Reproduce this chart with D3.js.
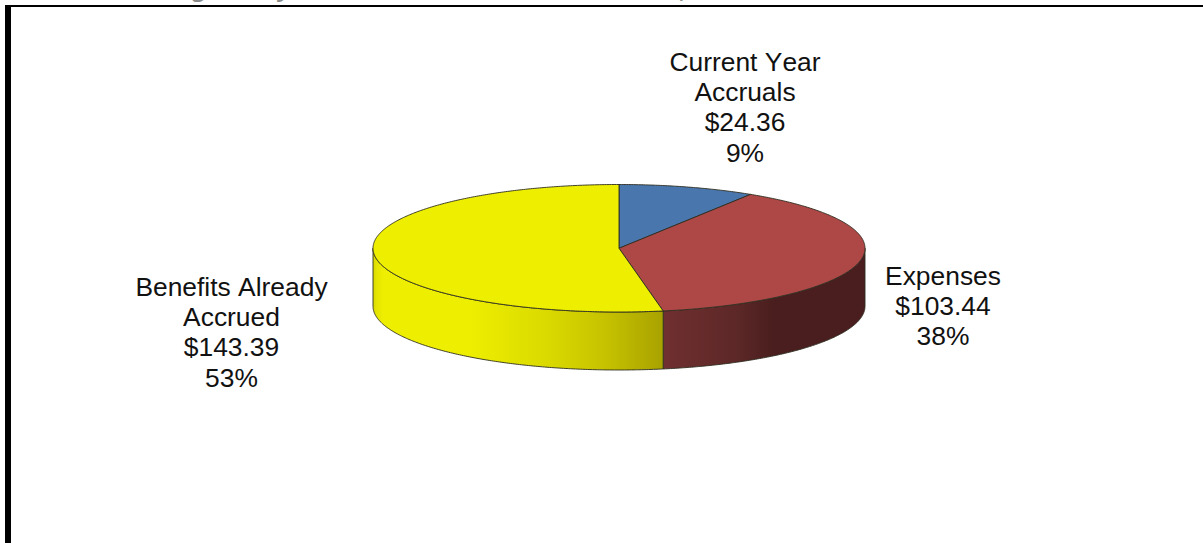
<!DOCTYPE html>
<html><head><meta charset="utf-8">
<script src="https://cdn.jsdelivr.net/npm/d3@7"></script>
<style>html,body{margin:0;padding:0;background:#fff;overflow:hidden}svg{display:block}text{font-family:"Liberation Sans",Arial,sans-serif;font-kerning:none}</style>
</head><body>
<script>
const categories = ["Current Year Accruals", "Expenses", "Benefits Already Accrued"];
const values = [24.36, 103.44, 143.39];
const percents = ["9%", "38%", "53%"];
const amounts = ["$24.36", "$103.44", "$143.39"];
const labelLines = [["Current Year", "Accruals"], ["Expenses"], ["Benefits Already", "Accrued"]];
const topColors = ["#4a76ae", "#ad4846", "#eeee00"];
const titleFragments = ["g", "y", ","];

const W = 1203, H = 543;
const svg = d3.select("body").append("svg").attr("width", W).attr("height", H);
const defs = svg.append("defs");

const x = d3.scaleLinear().domain([-1, 1]).range([373, 865]);
const y = d3.scaleLinear().domain([-1, 1]).range([184.5, 312]);
const depth = 58;

const pie = d3.pie().sort(null).value(d => d).startAngle(0).endAngle(2 * Math.PI);
const arcs = pie(values);

const pt = a => [x(Math.sin(a)), y(-Math.cos(a))];
const sample = (a0, a1) => {
  const n = Math.max(2, Math.ceil(Math.abs(a1 - a0) / 0.01));
  return d3.range(n + 1).map(i => pt(a0 + (a1 - a0) * i / n));
};
const line = d3.line();

// gradients for rim
const gradYellow = defs.append("linearGradient").attr("id", "rimY").attr("gradientUnits", "userSpaceOnUse")
  .attr("x1", x(-1)).attr("x2", x(0.18)).attr("y1", 0).attr("y2", 0);
[[0, "#d8d800"], [0.012, "#e4e400"], [0.035, "#eeee00"], [0.33, "#eeee00"], [0.6, "#dada00"], [0.8, "#c6c200"], [1, "#a8a200"]]
  .forEach(s => gradYellow.append("stop").attr("offset", s[0]).attr("stop-color", s[1]));
const gradRed = defs.append("linearGradient").attr("id", "rimR").attr("gradientUnits", "userSpaceOnUse")
  .attr("x1", x(0.18)).attr("x2", x(1)).attr("y1", 0).attr("y2", 0);
[[0, "#702f30"], [0.35, "#5e2828"], [0.55, "#4a1e1e"], [1, "#4a1e1e"]]
  .forEach(s => gradRed.append("stop").attr("offset", s[0]).attr("stop-color", s[1]));
const rimFill = ["none", "url(#rimR)", "url(#rimY)"];

const stroke = "#2e2e20", sw = 0.9;

// rim: only the front half of the ellipse is visible
arcs.forEach((d, i) => {
  const a0 = Math.max(d.startAngle, Math.PI / 2), a1 = Math.min(d.endAngle, 3 * Math.PI / 2);
  if (a1 <= a0) return;
  const t = sample(a0, a1);
  const b = t.slice().reverse().map(p => [p[0], p[1] + depth]);
  svg.append("path").attr("d", line(t.concat(b)) + "Z")
    .attr("fill", rimFill[i]).attr("stroke", stroke).attr("stroke-width", sw).attr("stroke-linejoin", "round");
});

// top slices
arcs.forEach((d, i) => {
  const c = [x(0), y(0)];
  svg.append("path").attr("d", line([c].concat(sample(d.startAngle, d.endAngle))) + "Z")
    .attr("fill", topColors[i]).attr("stroke", stroke).attr("stroke-width", sw).attr("stroke-linejoin", "round");
});

// frame
svg.append("rect").attr("x", 5).attr("y", 5).attr("width", 6).attr("height", H - 5).attr("fill", "#000");
svg.append("rect").attr("x", 5).attr("y", 5).attr("width", W - 5).attr("height", 2).attr("fill", "#000");

// clipped title remnants
defs.append("clipPath").attr("id", "titleClip").append("rect").attr("x", 0).attr("y", 0).attr("width", W).attr("height", 5);
const titleG = svg.append("g").attr("clip-path", "url(#titleClip)");
[192, 278, 680].forEach((px, i) => titleG.append("text").attr("x", px).attr("y", -3)
  .attr("font-size", 26).attr("font-weight", "bold").attr("font-style", "italic").attr("fill", "#8a8a8a").text(titleFragments[i]));

// labels
const labelPos = [[745, 71], [943, 284.5], [231.5, 296]];
const lh = 30.2;
const fs = 26.4;
categories.forEach((c, i) => {
  const lines = labelLines[i].concat([amounts[i], percents[i]]);
  const t = svg.append("text").attr("text-anchor", "middle").attr("font-size", fs).attr("fill", "#111");
  lines.forEach((l, j) => t.append("tspan").attr("x", labelPos[i][0]).attr("y", labelPos[i][1] + j * lh).text(l));
});
</script>
</body></html>
